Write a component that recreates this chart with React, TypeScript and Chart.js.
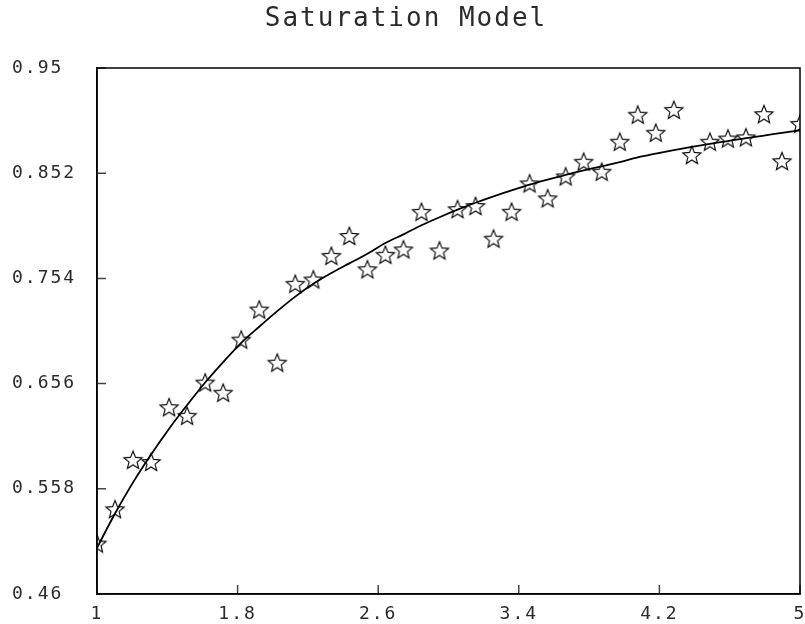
import React, { useEffect, useRef } from 'react';
import { Chart, registerables } from 'chart.js';

Chart.register(...registerables);

const TITLE = 'Saturation Model';

const X_VALUES = [
  1.0, 1.1026, 1.2051, 1.3077, 1.4103, 1.5128, 1.6154, 1.7179, 1.8205, 1.9231,
  2.0256, 2.1282, 2.2308, 2.3333, 2.4359, 2.5385, 2.641, 2.7436, 2.8462, 2.9487,
  3.0513, 3.1538, 3.2564, 3.359, 3.4615, 3.5641, 3.6667, 3.7692, 3.8718, 3.9744,
  4.0769, 4.1795, 4.2821, 4.3846, 4.4872, 4.5897, 4.6923, 4.7949, 4.8974, 5.0,
];

const OBSERVED = [
  0.507, 0.539, 0.585, 0.583, 0.634, 0.626, 0.657, 0.6475, 0.697, 0.725,
  0.6755, 0.749, 0.753, 0.775, 0.7935, 0.7625, 0.776, 0.781, 0.816, 0.78,
  0.8185, 0.8214, 0.791, 0.8161, 0.8425, 0.8286, 0.849, 0.8627, 0.8534, 0.8813,
  0.9065, 0.8897, 0.911, 0.8689, 0.8813, 0.8843, 0.8854, 0.907, 0.8632, 0.898,
];

const MODEL = [
  0.503, 0.535, 0.564, 0.59, 0.614, 0.636, 0.657, 0.676, 0.694, 0.709,
  0.7235, 0.737, 0.749, 0.759, 0.768, 0.777, 0.787, 0.795, 0.8035, 0.811,
  0.818, 0.8245, 0.8305, 0.836, 0.8413, 0.846, 0.8505, 0.8546, 0.8584, 0.8624,
  0.8667, 0.8702, 0.8735, 0.8766, 0.8794, 0.8819, 0.8847, 0.8871, 0.8896, 0.892,
];

const X_TICKS = [1, 1.8, 2.6, 3.4, 4.2, 5];
const X_TICK_LABELS = ['1', '1.8', '2.6', '3.4', '4.2', '5'];
const Y_TICKS = [0.46, 0.558, 0.656, 0.754, 0.852, 0.95];
const Y_TICK_LABELS = ['0.46', '0.558', '0.656', '0.754', '0.852', '0.95'];

const FONT = "'DejaVu Sans Mono', monospace";
const TEXT_COLOR = '#2a2a2a';

function makeStar(): HTMLCanvasElement {
  const c = document.createElement('canvas');
  c.width = 24;
  c.height = 24;
  const ctx = c.getContext('2d')!;
  const R = 9.6;
  const r = R * 0.44;
  const cx = 12;
  const cy = 12.8;
  ctx.beginPath();
  for (let i = 0; i < 10; i++) {
    const rad = i % 2 === 0 ? R : r;
    const a = -Math.PI / 2 + (i * Math.PI) / 5;
    const px = cx + rad * Math.cos(a);
    const py = cy + rad * Math.sin(a);
    if (i === 0) ctx.moveTo(px, py);
    else ctx.lineTo(px, py);
  }
  ctx.closePath();
  ctx.strokeStyle = '#000';
  ctx.lineWidth = 1.1;
  ctx.stroke();
  return c;
}

export default function App() {
  const ref = useRef<HTMLCanvasElement>(null);

  useEffect(() => {
    document.body.style.margin = '0';
    const canvas = ref.current!;
    const star = makeStar();

    const spacing = {
      id: 'letterSpacing',
      beforeLayout(chart: any) {
        chart.ctx.letterSpacing = '2px';
      },
      beforeDraw(chart: any) {
        chart.ctx.letterSpacing = '2px';
      },
    };

    const frame = {
      id: 'frame',
      afterDatasetsDraw(chart: any) {
        const { left, top, right, bottom } = chart.chartArea;
        const ctx = chart.ctx;
        const xs = chart.scales.x;
        const ys = chart.scales.y;
        ctx.save();
        ctx.strokeStyle = '#444';
        ctx.lineWidth = 1.5;
        ctx.beginPath();
        X_TICKS.forEach((v) => {
          const px = xs.getPixelForValue(v);
          ctx.moveTo(px, bottom);
          ctx.lineTo(px, bottom - 9);
        });
        Y_TICKS.forEach((v) => {
          const py = ys.getPixelForValue(v);
          ctx.moveTo(left, py);
          ctx.lineTo(left + 9, py);
        });
        ctx.stroke();
        ctx.strokeStyle = '#000';
        ctx.lineWidth = 1.5;
        ctx.strokeRect(left, top, right - left, bottom - top);
        ctx.restore();
      },
    };

    const chart = new Chart(canvas, {
      type: 'scatter',
      data: {
        datasets: [
          {
            label: 'model',
            data: X_VALUES.map((x, i) => ({ x, y: MODEL[i] })),
            showLine: true,
            borderColor: '#000',
            borderWidth: 1.8,
            pointRadius: 0,
            cubicInterpolationMode: 'monotone',
            clip: 0,
          } as any,
          {
            label: 'observed',
            data: X_VALUES.map((x, i) => ({ x, y: OBSERVED[i] })),
            pointStyle: star as any,
            pointRadius: 10,
            showLine: false,
            clip: 0,
          } as any,
        ],
      },
      options: {
        animation: false,
        responsive: false,
        events: [],
        layout: { autoPadding: false, padding: { left: 12, right: 5, top: 0, bottom: 0 } },
        plugins: {
          legend: { display: false },
          tooltip: { enabled: false },
          title: {
            display: true,
            text: TITLE,
            color: TEXT_COLOR,
            font: { family: FONT, size: 26, weight: 'normal' },
            padding: { top: 4, bottom: 32.8 },
          },
        },
        scales: {
          x: {
            type: 'linear',
            min: 1,
            max: 5,
            afterBuildTicks: (s: any) => {
              s.ticks = X_TICKS.map((v) => ({ value: v }));
            },
            afterFit: (s: any) => {
              s.height = 30;
              s.paddingLeft = 0;
              s.paddingRight = 0;
            },
            ticks: {
              autoSkip: false,
              maxRotation: 0,
              color: TEXT_COLOR,
              padding: 2,
              font: { family: FONT, size: 18 },
              callback: (_v: any, i: number) => X_TICK_LABELS[i],
            },
            grid: { display: false },
            border: { display: true, color: '#000', width: 1.5 },
          },
          y: {
            type: 'linear',
            min: 0.46,
            max: 0.95,
            afterBuildTicks: (s: any) => {
              s.ticks = Y_TICKS.map((v) => ({ value: v }));
            },
            afterFit: (s: any) => {
              s.width = 85;
            },
            ticks: {
              autoSkip: false,
              crossAlign: 'far',
              color: TEXT_COLOR,
              font: { family: FONT, size: 18 },
              callback: (_v: any, i: number) => Y_TICK_LABELS[i],
            },
            grid: { display: false },
            border: { display: true, color: '#000', width: 1.5 },
          },
        },
      },
      plugins: [spacing, frame],
    });

    return () => chart.destroy();
  }, []);

  return (
    <div style={{ width: 805, height: 624 }}>
      <canvas ref={ref} width={805} height={624} style={{ display: 'block' }} />
    </div>
  );
}
